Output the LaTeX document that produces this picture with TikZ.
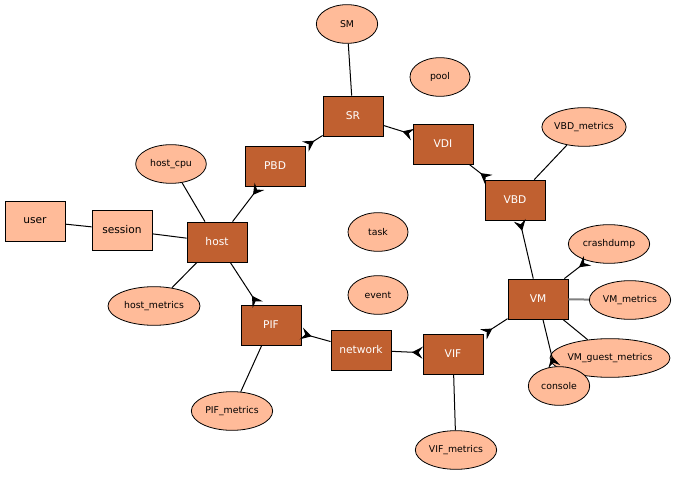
\documentclass[tikz,border=0pt]{standalone}
\usepackage{fontspec}
\setmainfont{DejaVu Sans}
\usepackage{tikz}
\usetikzlibrary{arrows.meta,shapes.geometric}
\definecolor{objdark}{RGB}{192,96,48}
\definecolor{objlight}{RGB}{255,187,153}

\begin{document}
\begin{tikzpicture}[x=0.75pt, y=-0.75pt,
                   obj/.style={draw=black, line width=0.6pt, fill=objdark, text=white,
                               minimum width=45pt, minimum height=30pt, inner sep=0pt,
                               font=\fontsize{8}{9}\selectfont},
                   lobj/.style={obj, fill=objlight, text=black},
                   attr/.style={ellipse, draw=black, line width=0.6pt, fill=objlight,
                                minimum height=29pt, inner sep=0pt,
                                font=\fontsize{7}{8}\selectfont},
                   link/.style={line width=0.75pt},
                   crow/.style={link, {Stealth[reversed, length=8pt, width=9pt, inset=3pt]}-}]
    \useasboundingbox (0,0) rectangle (678,477);
    \node[obj] (sr)      at (353,116) {SR};
    \node[obj] (pbd)     at (275,166) {PBD};
    \node[obj] (vdi)     at (443,144) {VDI};
    \node[obj] (vbd)     at (515,200) {VBD};
    \node[obj] (host)    at (217,242) {host};
    \node[obj] (vm)      at (538,299) {VM};
    \node[obj] (pif)     at (271,325) {PIF};
    \node[obj] (network) at (361,350) {network};
    \node[obj] (vif)     at (453,354) {VIF};
    \node[lobj] (user)    at (35,221)  {user};
    \node[lobj] (session) at (122,230) {session};
    \node[attr, minimum width=46pt] (sm)          at (347,24)  {SM};
    \node[attr, minimum width=45pt] (pool)        at (440,77)  {pool};
    \node[attr, minimum width=57pt] (vbdmetrics)  at (584,127) {VBD\_metrics};
    \node[attr, minimum width=53pt] (hostcpu)     at (171,164) {host\_cpu};
    \node[attr, minimum width=45pt] (task)        at (378,232) {task};
    \node[attr, minimum width=61pt] (crashdump)   at (609,244) {crashdump};
    \node[attr, minimum width=45pt] (event)       at (378,295) {event};
    \node[attr, minimum width=61pt] (vmmetrics)   at (630,300) {VM\_metrics};
    \node[attr, minimum width=69pt] (hostmetrics) at (154,306) {host\_metrics};
    \node[attr, minimum width=88pt] (vmguest)     at (610,358) {VM\_guest\_metrics};
    \node[attr, minimum width=46pt] (console)     at (559,386) {console};
    \node[attr, minimum width=61pt] (pifmetrics)  at (232,411) {PIF\_metrics};
    \node[attr, minimum width=61pt] (vifmetrics)  at (456,450) {VIF\_metrics};
    \draw[link] (sm) -- (sr);
    \draw[crow] (pbd) -- (sr);
    \draw[crow] (vdi) -- (sr);
    \draw[crow] (vbd) -- (vdi);
    \draw[link] (vbd) -- (vbdmetrics);
    \draw[crow] (vbd) -- (vm);
    \draw[crow] (crashdump) -- (vm);
    \draw[draw=gray, line width=1.5pt] (vm) -- (vmmetrics);
    \draw[link] (vm) -- (vmguest);
    \draw[crow] (console) -- (vm);
    \draw[crow] (vif) -- (vm);
    \draw[crow] (vif) -- (network);
    \draw[link] (vif) -- (vifmetrics);
    \draw[crow] (pif) -- (network);
    \draw[link] (pif) -- (pifmetrics);
    \draw[crow] (pif) -- (host);
    \draw[crow] (pbd) -- (host);
    \draw[link] (host) -- (hostcpu);
    \draw[link] (host) -- (hostmetrics);
    \draw[link] (host) -- (session);
    \draw[link] (session) -- (user);
\end{tikzpicture}
\end{document}
